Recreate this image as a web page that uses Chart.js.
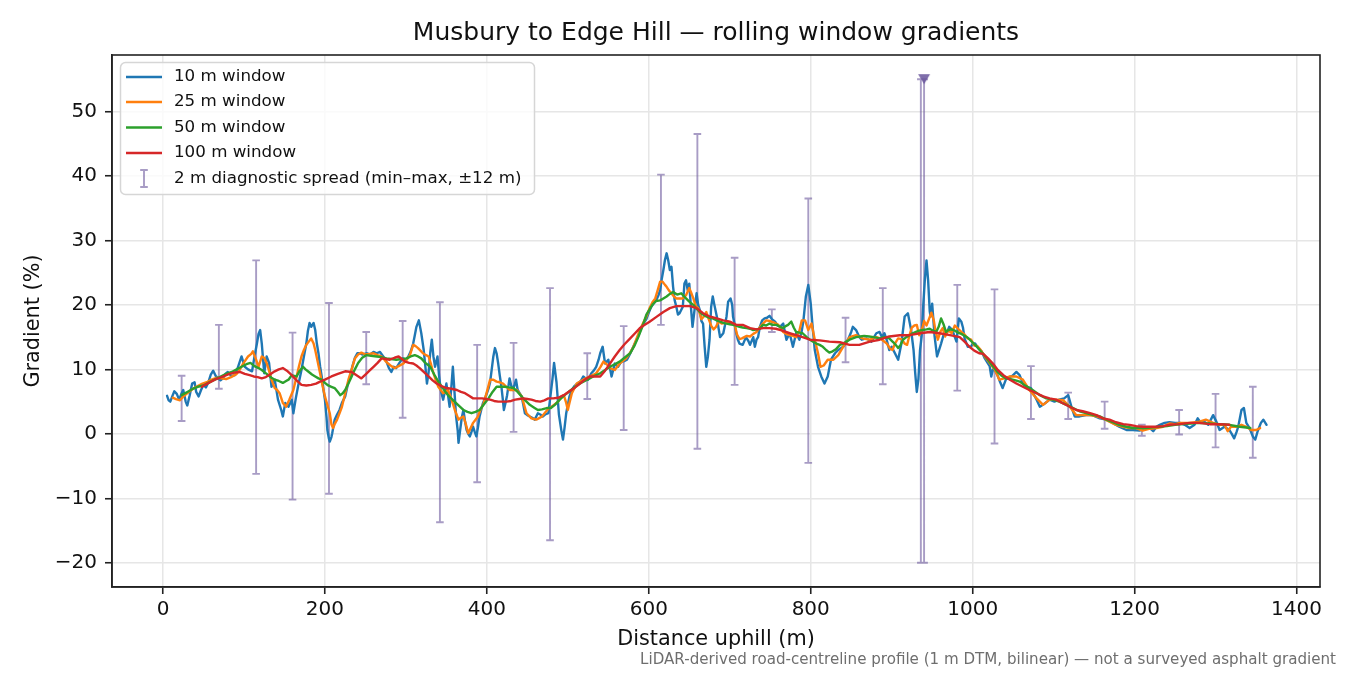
<!DOCTYPE html>
<html>
<head>
<meta charset="utf-8">
<title>Musbury to Edge Hill — rolling window gradients</title>
<script src="https://cdn.jsdelivr.net/npm/chart.js@4.4.1/dist/chart.umd.min.js"></script>
<style>
  html, body { margin: 0; padding: 0; background: #fff; }
  #chart { display: block; }
</style>
</head>
<body>
<canvas id="chart" width="1350" height="675"></canvas>
<script>
const FONT = "'DejaVu Sans', sans-serif";

const chartTitle = 'Musbury to Edge Hill \u2014 rolling window gradients';
const xLabel = 'Distance uphill (m)';
const yLabel = 'Gradient (%)';
const footnote = 'LiDAR-derived road-centreline profile (1 m DTM, bilinear) \u2014 not a surveyed asphalt gradient';
const seriesNames = ['10 m window', '25 m window', '50 m window', '100 m window'];
const spreadName = '2 m diagnostic spread (min\u2013max, \u00b112 m)';

const xTicks = [0, 200, 400, 600, 800, 1000, 1200, 1400];
const yTicks = [-20, -10, 0, 10, 20, 30, 40, 50];

// [distance m, gradient %]
const win10 = [[5,5.9],[7,5.2],[9,5.0],[12,6.0],[14,6.6],[17,6.2],[20,5.3],[23,6.3],[25,6.8],[28,5.0],[30,4.4],[33,6.0],[36,7.8],[39,8.0],[41,6.5],[44,5.8],[47,6.8],[50,7.6],[53,7.2],[56,8.0],[59,9.2],[62,9.8],[65,9.0],[68,8.6],[71,8.3],[74,8.6],[77,9.3],[80,9.6],[84,9.0],[89,9.1],[93,10.5],[97,12.0],[101,10.4],[105,10.0],[110,9.7],[113,12.0],[116,14.0],[118,15.5],[120,16.1],[122,14.0],[125,9.4],[128,12.0],[131,11.0],[134,7.3],[138,8.4],[142,5.3],[146,3.7],[148,2.7],[151,4.8],[155,4.2],[159,5.3],[161,3.2],[164,5.5],[167,7.5],[171,9.9],[174,12.0],[177,14.0],[179,16.0],[181,17.2],[183,16.6],[186,17.2],[188,16.1],[190,14.0],[192,12.5],[194,10.5],[196,8.9],[198,7.0],[200,5.3],[202,2.5],[203,0.6],[205,-0.8],[206,-1.2],[208,-0.5],[209,0.1],[212,2.2],[215,3.0],[218,3.7],[221,4.8],[225,5.8],[228,7.5],[231,8.9],[234,10.5],[237,11.8],[240,12.5],[243,12.5],[246,12.3],[249,12.4],[252,12.5],[256,12.3],[260,12.7],[264,12.5],[268,12.7],[272,12.0],[276,11.2],[279,10.2],[282,9.6],[285,10.4],[288,10.2],[292,11.0],[296,11.7],[300,11.5],[303,12.0],[306,12.8],[309,14.0],[311,15.3],[313,16.6],[316,17.6],[319,15.6],[322,13.0],[324,10.5],[326,7.8],[328,9.5],[330,12.5],[332,14.6],[334,12.0],[336,10.4],[339,12.0],[341,9.0],[343,6.8],[346,5.3],[348,6.5],[350,7.8],[352,6.0],[354,4.2],[356,7.0],[358,10.4],[360,6.5],[362,2.7],[364,0.5],[365,-1.4],[367,0.6],[369,2.5],[371,3.7],[373,2.0],[375,0.6],[377,0.0],[379,-0.4],[381,0.3],[383,1.1],[385,0.3],[387,-0.4],[389,1.0],[391,2.7],[393,3.7],[395,4.7],[398,5.6],[400,6.3],[402,7.0],[404,8.0],[406,10.0],[408,12.0],[410,13.3],[412,12.5],[414,10.9],[416,9.0],[418,7.3],[420,5.0],[421,3.7],[423,4.8],[425,6.0],[428,8.6],[430,7.5],[432,6.8],[434,7.5],[436,8.4],[438,6.8],[441,6.2],[443,5.8],[445,4.5],[447,3.2],[450,2.9],[453,2.7],[456,2.5],[459,2.2],[461,2.7],[463,3.2],[466,3.0],[469,2.7],[472,3.0],[476,3.2],[478,5.3],[481,8.5],[483,11.0],[486,8.0],[489,3.0],[492,0.5],[494,-0.9],[496,1.0],[498,3.2],[500,4.5],[502,5.8],[505,6.8],[508,7.4],[512,7.8],[516,8.2],[519,8.9],[522,8.6],[525,8.4],[529,9.4],[532,9.8],[535,10.4],[538,11.5],[540,12.5],[543,13.5],[546,10.9],[550,11.5],[554,8.9],[558,10.9],[562,10.4],[566,11.2],[570,11.3],[573,11.5],[576,12.2],[579,13.0],[582,13.8],[585,14.6],[588,15.5],[591,16.6],[594,17.2],[597,17.8],[600,18.8],[603,19.7],[606,20.2],[609,20.7],[612,21.5],[614,22.3],[616,24.0],[618,25.4],[620,27.0],[622,28.0],[624,26.9],[626,25.4],[628,25.9],[630,22.8],[632,20.7],[634,19.7],[636,18.5],[638,18.7],[640,19.2],[642,19.7],[644,23.3],[646,23.8],[648,22.3],[650,23.3],[652,19.7],[654,16.6],[656,18.7],[659,21.8],[661,20.0],[663,19.2],[665,17.5],[667,17.1],[669,13.5],[671,10.4],[673,12.0],[675,14.6],[677,19.7],[679,21.3],[681,20.0],[684,18.2],[686,16.5],[688,15.0],[690,15.3],[692,15.6],[694,16.8],[696,18.2],[698,20.5],[701,21.0],[703,20.0],[704,18.2],[706,17.0],[708,15.6],[710,14.6],[712,14.0],[716,13.8],[720,15.0],[723,14.4],[725,13.8],[729,15.0],[731,13.5],[733,14.6],[735,15.0],[737,16.5],[740,17.6],[743,17.9],[746,18.0],[749,18.3],[752,17.8],[756,17.4],[759,16.8],[762,16.6],[766,17.1],[770,14.6],[774,15.6],[778,13.5],[782,15.6],[786,14.6],[789,16.0],[791,17.6],[794,21.3],[797,23.1],[800,20.2],[802,17.1],[805,13.0],[809,10.4],[813,8.9],[817,7.8],[821,8.9],[825,11.5],[830,12.5],[834,13.0],[840,13.5],[846,14.6],[850,15.8],[852,16.6],[856,16.1],[860,15.0],[863,14.6],[869,14.8],[875,14.3],[881,15.6],[885,15.8],[888,15.0],[891,15.6],[894,14.5],[897,13.0],[900,13.5],[904,12.5],[908,11.5],[912,14.0],[916,18.2],[920,18.7],[924,16.1],[927,13.0],[929,9.5],[931,6.5],[933,8.5],[935,13.0],[937,15.1],[939,20.0],[941,24.0],[943,26.9],[945,23.8],[947,19.0],[948,18.2],[950,20.2],[953,15.1],[956,12.0],[958,12.8],[961,14.0],[964,15.3],[968,15.6],[971,16.6],[975,16.1],[978,15.0],[980,14.3],[983,17.9],[986,17.4],[988,16.5],[990,14.8],[994,13.5],[998,13.5],[1000,14.0],[1003,14.0],[1007,13.3],[1011,12.8],[1015,11.7],[1019,10.9],[1021,10.5],[1023,8.9],[1025,10.0],[1028,9.8],[1031,9.0],[1034,8.0],[1037,7.1],[1041,8.4],[1045,8.8],[1049,9.0],[1054,9.6],[1058,9.1],[1062,7.8],[1066,7.3],[1072,7.1],[1076,6.0],[1079,5.3],[1083,4.2],[1089,4.7],[1095,5.3],[1101,5.0],[1107,5.3],[1113,5.5],[1118,6.0],[1122,4.2],[1126,2.7],[1132,2.7],[1140,2.9],[1148,2.9],[1157,2.4],[1165,2.2],[1173,1.7],[1181,1.1],[1190,0.6],[1198,0.6],[1206,0.5],[1214,0.9],[1219,0.9],[1223,0.4],[1227,1.1],[1231,1.4],[1237,1.7],[1243,1.8],[1250,1.7],[1256,1.7],[1262,1.4],[1268,0.9],[1274,1.4],[1278,2.4],[1282,1.7],[1286,1.9],[1291,1.4],[1297,2.9],[1301,1.9],[1305,0.6],[1311,1.1],[1317,0.6],[1320,0.0],[1323,-0.7],[1326,0.3],[1328,1.1],[1332,3.7],[1335,4.0],[1338,1.7],[1342,0.9],[1346,-0.4],[1349,-0.9],[1352,0.4],[1356,1.7],[1359,2.2],[1363,1.4]];

const win25 = [[12,5.6],[16,5.4],[21,5.2],[25,5.8],[29,6.2],[35,6.8],[41,7.3],[47,7.7],[54,8.0],[60,8.4],[66,8.7],[72,8.6],[78,8.5],[84,8.8],[91,9.3],[95,10.0],[99,10.9],[105,12.0],[109,12.4],[111,12.8],[115,11.5],[118,10.4],[122,12.0],[125,11.8],[128,11.0],[131,9.8],[134,8.4],[138,7.1],[141,6.8],[144,6.3],[148,4.8],[152,4.2],[156,5.3],[161,6.8],[165,8.9],[168,10.5],[171,12.0],[174,13.0],[177,13.8],[180,14.3],[183,14.8],[186,14.0],[188,13.0],[191,11.2],[194,9.4],[197,7.5],[200,5.8],[203,4.5],[206,3.2],[208,1.5],[210,0.9],[212,1.5],[215,2.2],[218,3.2],[221,4.2],[225,6.3],[229,8.4],[233,10.0],[237,11.7],[241,12.3],[245,12.6],[250,12.3],[255,12.4],[260,12.5],[265,12.2],[270,12.0],[274,11.4],[278,10.9],[282,10.5],[286,10.2],[291,10.5],[297,10.9],[301,11.5],[305,12.2],[309,13.8],[312,13.6],[315,13.3],[318,12.9],[321,12.5],[325,12.2],[328,12.0],[331,10.8],[334,9.4],[337,8.3],[340,7.3],[343,6.8],[346,6.3],[349,6.5],[352,6.8],[355,5.8],[358,4.7],[361,3.5],[365,2.2],[368,2.5],[371,2.7],[374,1.5],[377,0.1],[380,0.9],[383,1.7],[386,2.2],[389,2.7],[392,3.7],[396,4.7],[400,6.5],[404,8.4],[408,8.4],[412,8.1],[416,8.0],[420,7.8],[424,7.3],[428,6.8],[432,6.8],[437,6.8],[443,5.8],[446,4.5],[449,3.2],[452,2.8],[455,2.4],[458,2.3],[461,2.2],[464,2.4],[468,2.7],[472,3.3],[476,3.9],[480,4.2],[484,4.6],[488,5.0],[492,5.8],[495,6.0],[498,4.8],[500,3.7],[502,4.8],[505,6.3],[511,7.8],[519,8.4],[527,8.9],[535,9.4],[540,10.3],[544,11.2],[548,10.8],[552,10.2],[558,9.9],[564,10.9],[572,11.7],[577,12.6],[581,13.5],[585,14.8],[589,16.1],[593,17.2],[597,18.2],[601,19.5],[605,20.5],[608,21.0],[611,22.3],[614,23.6],[617,23.6],[620,23.1],[622,22.8],[625,22.2],[628,21.8],[631,21.3],[634,21.0],[637,21.0],[642,21.0],[646,21.5],[650,22.6],[652,22.0],[655,21.0],[658,19.8],[661,19.5],[665,17.8],[668,18.2],[671,18.9],[674,17.8],[677,16.8],[680,16.2],[683,16.6],[686,17.4],[690,17.1],[694,17.2],[698,17.4],[702,17.2],[706,17.0],[709,15.4],[712,14.7],[715,14.8],[718,15.0],[721,15.2],[725,15.1],[729,15.5],[733,15.8],[737,16.5],[741,17.1],[745,17.6],[749,17.5],[754,17.3],[760,16.9],[766,15.8],[770,15.5],[774,15.3],[778,15.2],[782,15.0],[786,16.0],[789,17.6],[793,17.6],[797,16.1],[801,17.1],[805,14.6],[809,12.5],[812,10.4],[816,10.6],[821,11.5],[828,11.5],[834,12.2],[840,13.5],[848,15.0],[856,15.3],[864,14.8],[873,14.6],[881,15.0],[886,14.8],[890,14.4],[894,14.0],[898,13.2],[901,13.0],[904,14.0],[908,14.8],[912,14.7],[916,14.0],[919,13.8],[922,15.3],[925,16.5],[928,16.8],[931,16.9],[934,15.3],[937,16.0],[940,17.5],[943,16.8],[946,17.8],[949,18.8],[952,17.6],[954,16.0],[957,14.6],[960,15.8],[963,16.4],[966,15.1],[970,16.1],[974,15.6],[978,16.8],[982,16.3],[986,15.8],[990,15.4],[994,14.8],[998,14.6],[1002,13.7],[1006,13.6],[1010,13.0],[1015,12.0],[1021,11.0],[1027,10.0],[1030,9.2],[1033,8.4],[1039,8.6],[1046,8.9],[1054,8.9],[1062,8.4],[1070,6.8],[1079,5.5],[1087,4.5],[1095,5.3],[1103,5.3],[1112,5.2],[1120,4.2],[1128,2.9],[1136,2.9],[1145,2.9],[1153,2.7],[1161,2.4],[1169,1.9],[1177,1.4],[1186,1.1],[1194,0.9],[1202,0.9],[1210,0.5],[1219,0.8],[1227,0.9],[1235,1.1],[1243,1.6],[1250,1.5],[1256,1.7],[1268,1.7],[1280,1.9],[1288,2.2],[1297,1.7],[1305,1.4],[1311,1.4],[1315,0.4],[1319,1.1],[1326,1.1],[1332,1.4],[1338,1.1],[1344,0.6],[1350,0.6],[1355,0.9]];

const win50 = [[23,6.0],[30,6.5],[37,7.0],[43,7.3],[50,7.5],[56,7.9],[62,8.3],[70,8.8],[78,9.3],[85,9.6],[91,10.0],[97,10.4],[103,10.8],[108,11.0],[113,10.5],[118,10.2],[122,9.9],[126,9.5],[130,9.1],[134,8.7],[138,8.4],[143,8.2],[148,7.9],[152,8.2],[155,8.4],[159,9.1],[162,9.0],[165,8.9],[169,9.8],[173,10.4],[176,10.0],[179,9.7],[184,9.2],[188,8.9],[192,8.6],[196,8.4],[200,7.9],[204,7.5],[208,7.3],[212,7.1],[216,6.5],[219,6.0],[222,6.3],[225,6.8],[229,7.8],[233,8.9],[237,10.0],[241,11.0],[246,11.8],[251,12.2],[257,12.1],[264,12.0],[270,11.9],[276,11.7],[282,11.6],[288,11.5],[295,11.6],[301,11.7],[306,12.0],[311,12.2],[315,12.0],[319,11.7],[324,11.0],[330,10.4],[335,9.2],[340,8.1],[345,7.2],[350,6.3],[355,5.6],[360,5.0],[365,4.4],[371,3.7],[376,3.4],[381,3.2],[386,3.4],[391,3.7],[396,4.5],[402,5.5],[407,6.5],[412,7.3],[417,7.3],[422,7.3],[427,7.2],[433,7.1],[438,6.5],[443,5.8],[448,5.1],[453,4.5],[458,4.1],[463,3.7],[468,3.8],[474,4.0],[479,4.0],[484,4.5],[490,5.3],[496,6.0],[502,6.6],[508,7.2],[515,7.8],[521,8.2],[527,8.6],[533,9.0],[540,9.4],[546,9.9],[552,10.4],[558,10.8],[564,11.2],[570,11.8],[577,12.5],[582,13.6],[587,15.0],[592,16.6],[597,18.5],[601,19.3],[605,20.1],[609,20.6],[614,20.7],[618,21.0],[622,21.3],[626,21.7],[630,22.0],[635,21.6],[640,21.8],[646,21.0],[650,20.5],[655,20.0],[659,19.4],[663,18.9],[667,18.5],[671,18.2],[675,18.0],[679,17.9],[684,17.6],[688,17.4],[692,17.2],[696,17.1],[700,17.0],[704,16.9],[708,16.8],[712,16.6],[716,16.5],[721,16.4],[725,16.3],[729,16.1],[733,16.2],[737,16.3],[741,16.9],[745,16.8],[749,17.1],[753,16.9],[758,16.9],[762,16.6],[766,16.4],[769,16.7],[772,16.9],[776,17.4],[779,16.5],[782,15.8],[786,15.7],[790,15.6],[795,15.0],[799,14.6],[803,14.3],[807,14.0],[811,13.8],[815,13.5],[819,13.0],[823,12.6],[827,12.8],[831,13.1],[836,13.8],[840,14.0],[844,14.3],[848,14.6],[852,14.8],[856,15.0],[861,15.1],[866,15.2],[872,15.1],[878,15.0],[885,14.8],[891,15.0],[897,14.8],[902,14.2],[905,13.8],[908,13.3],[911,13.8],[914,14.6],[918,15.0],[922,15.3],[926,15.6],[930,15.8],[934,16.0],[938,16.1],[943,16.2],[947,16.3],[951,16.0],[955,15.8],[958,16.6],[961,17.9],[964,17.0],[967,15.8],[970,16.1],[974,16.2],[978,16.0],[982,15.7],[986,15.5],[990,15.2],[994,14.9],[998,14.4],[1002,13.9],[1006,13.4],[1010,12.8],[1015,12.1],[1020,11.3],[1025,10.5],[1030,9.7],[1035,9.1],[1041,8.6],[1047,8.5],[1053,8.3],[1058,8.1],[1066,7.4],[1074,6.8],[1083,6.0],[1091,5.5],[1099,5.3],[1107,5.0],[1116,4.5],[1124,4.0],[1132,3.5],[1140,3.2],[1149,2.9],[1157,2.7],[1165,2.2],[1173,1.8],[1181,1.4],[1190,1.1],[1198,0.9],[1206,0.9],[1214,0.9],[1222,1.0],[1231,1.1],[1240,1.2],[1250,1.4],[1260,1.5],[1270,1.6],[1280,1.7],[1292,1.6],[1305,1.5],[1317,1.4],[1330,1.1],[1343,0.9]];

const win100 = [[48,7.3],[52,7.6],[58,8.0],[64,8.4],[70,8.7],[76,9.0],[82,9.3],[88,9.5],[95,9.6],[101,9.3],[107,9.1],[112,8.9],[117,8.8],[122,8.6],[127,8.8],[132,9.2],[138,9.7],[143,10.0],[148,10.2],[153,9.8],[159,9.1],[165,8.3],[171,7.6],[177,7.5],[183,7.6],[189,7.8],[194,8.1],[200,8.4],[208,8.9],[216,9.3],[225,9.7],[233,9.6],[240,9.0],[245,8.6],[250,9.2],[255,9.8],[260,10.4],[265,11.0],[270,11.7],[275,11.6],[280,11.5],[286,11.8],[291,12.0],[295,11.6],[299,11.2],[304,11.0],[309,10.9],[313,10.6],[317,10.2],[322,9.6],[328,8.9],[333,8.3],[338,7.8],[344,7.4],[350,7.1],[356,7.0],[363,6.8],[368,6.5],[373,6.3],[378,5.9],[383,5.5],[388,5.5],[394,5.5],[399,5.4],[404,5.3],[409,5.1],[414,5.0],[419,5.0],[424,5.0],[430,5.1],[435,5.3],[440,5.4],[445,5.5],[450,5.4],[455,5.3],[460,5.1],[466,5.0],[471,5.2],[476,5.5],[482,5.5],[488,5.6],[495,6.0],[502,6.6],[509,7.2],[515,7.8],[521,8.4],[527,8.9],[533,8.9],[540,8.9],[546,9.8],[552,10.9],[558,12.0],[564,13.0],[570,13.9],[577,14.8],[583,15.6],[589,16.4],[595,16.9],[601,17.4],[609,18.1],[618,18.9],[626,19.5],[634,19.8],[642,19.8],[651,19.8],[659,19.5],[667,18.7],[675,18.2],[684,17.9],[692,17.6],[700,17.4],[708,16.9],[716,16.9],[725,16.4],[733,16.2],[741,16.4],[749,16.4],[757,16.3],[765,16.0],[774,15.6],[782,15.3],[790,15.0],[799,14.6],[811,14.5],[823,14.3],[836,14.2],[848,13.8],[860,13.8],[873,14.3],[885,14.6],[897,15.1],[910,15.3],[922,15.3],[935,15.6],[947,15.8],[959,15.6],[972,15.3],[984,15.0],[990,14.3],[996,13.5],[1002,12.9],[1008,12.5],[1013,12.4],[1019,11.7],[1025,10.9],[1031,9.9],[1038,9.1],[1046,8.4],[1054,7.8],[1062,7.3],[1070,6.8],[1079,6.3],[1087,5.8],[1095,5.5],[1103,5.3],[1112,4.7],[1120,4.2],[1128,3.7],[1136,3.5],[1145,3.2],[1153,2.9],[1161,2.4],[1169,2.2],[1177,1.8],[1186,1.5],[1194,1.4],[1202,1.2],[1210,1.1],[1219,1.1],[1227,1.1],[1235,1.2],[1243,1.4],[1255,1.5],[1268,1.7],[1280,1.7],[1293,1.5],[1305,1.5],[1317,1.4]];

// 2 m diagnostic spread, min and max (values beyond the axis are shown at the limit)
const spreadDist = [23, 69, 115, 160, 205, 251, 296, 342, 388, 433, 478, 524, 569, 615, 660, 706, 752, 797, 843, 889, 936, 940, 981, 1027, 1072, 1118, 1163, 1209, 1255, 1300, 1346];
const spreadLo = [2.0, 7.0, -6.2, -10.2, -9.3, 7.7, 2.5, -13.7, -7.5, 0.3, -16.5, 5.4, 0.6, 16.9, -2.3, 7.6, 15.8, -4.5, 11.1, 7.7, -20, -20, 6.7, -1.5, 2.3, 2.3, 0.8, -0.3, -0.1, -2.1, -3.7];
const spreadHi = [9.0, 16.9, 26.9, 15.7, 20.3, 15.8, 17.5, 20.4, 13.8, 14.1, 22.6, 12.5, 16.7, 40.2, 46.5, 27.3, 19.3, 36.5, 18.0, 22.6, 55, 55, 23.1, 22.4, 10.5, 6.4, 5.0, 1.4, 3.7, 6.2, 7.3];
const clippedMarks = [[940, 55]];

const lineColors = ['#1f77b4', '#ff7f0e', '#2ca02c', '#d62728'];
const spreadColor = 'rgba(105, 85, 155, 0.58)';
const markColor = 'rgba(105, 85, 155, 0.85)';

function toPoints(pairs) {
  return pairs.map(p => ({x: p[0], y: p[1]}));
}

function tickText(v) {
  return v < 0 ? '\u2212' + Math.abs(v) : String(v);
}

// down-pointing triangle, centred in its own box like matplotlib's 'v'
const downTri = document.createElement('canvas');
downTri.width = 14; downTri.height = 12;
(function() {
  const c = downTri.getContext('2d');
  c.fillStyle = markColor;
  c.beginPath();
  c.moveTo(1, 1); c.lineTo(13, 1); c.lineTo(7, 11); c.closePath();
  c.fill();
})();

const spreadPlugin = {
  id: 'spread',
  beforeDatasetsDraw(chart) {
    const {ctx, chartArea, scales} = chart;
    ctx.save();
    ctx.beginPath();
    ctx.rect(chartArea.left, chartArea.top, chartArea.width, chartArea.height);
    ctx.clip();
    ctx.strokeStyle = spreadColor;
    ctx.lineWidth = 1.9;
    ctx.beginPath();
    spreadDist.forEach((d, i) => {
      const px = scales.x.getPixelForValue(d);
      const lo = scales.y.getPixelForValue(spreadLo[i]);
      const hi = scales.y.getPixelForValue(spreadHi[i]);
      ctx.moveTo(px, lo); ctx.lineTo(px, hi);
      ctx.moveTo(px - 3.8, lo); ctx.lineTo(px + 3.8, lo);
      ctx.moveTo(px - 3.8, hi); ctx.lineTo(px + 3.8, hi);
    });
    ctx.stroke();
    ctx.restore();
  }
};

const decorPlugin = {
  id: 'decor',
  afterDraw(chart) {
    const {ctx, chartArea} = chart;
    ctx.save();
    // top and right spines
    ctx.strokeStyle = '#222';
    ctx.lineWidth = 1.6;
    ctx.strokeRect(chartArea.left, chartArea.top, chartArea.width, chartArea.height);

    // title
    ctx.fillStyle = '#111';
    ctx.font = '25px ' + FONT;
    ctx.textAlign = 'center';
    ctx.textBaseline = 'middle';
    ctx.fillText(chartTitle, (chartArea.left + chartArea.right) / 2, 33);

    // footnote
    ctx.fillStyle = '#6e6e6e';
    ctx.font = '15.1px ' + FONT;
    ctx.textAlign = 'right';
    ctx.fillText(footnote, 1336, 660);

    // legend
    const bx = 120.5, by = 62.5, bw = 414, bh = 132;
    ctx.beginPath();
    if (ctx.roundRect) ctx.roundRect(bx, by, bw, bh, 5); else ctx.rect(bx, by, bw, bh);
    ctx.fillStyle = 'rgba(255,255,255,0.8)';
    ctx.fill();
    ctx.strokeStyle = '#d6d6d6';
    ctx.lineWidth = 1.5;
    ctx.stroke();

    const rows = [77, 102, 127.5, 153, 178.5];
    ctx.font = '16.7px ' + FONT;
    ctx.textAlign = 'left';
    seriesNames.forEach((name, i) => {
      ctx.strokeStyle = lineColors[i];
      ctx.lineWidth = 2.4;
      ctx.beginPath();
      ctx.moveTo(126, rows[i]); ctx.lineTo(162, rows[i]);
      ctx.stroke();
      ctx.fillStyle = '#111';
      ctx.fillText(name, 174, rows[i]);
    });
    const ey = rows[4];
    ctx.strokeStyle = spreadColor;
    ctx.lineWidth = 1.9;
    ctx.beginPath();
    ctx.moveTo(144, ey - 8.5); ctx.lineTo(144, ey + 8.5);
    ctx.moveTo(140.2, ey - 8.5); ctx.lineTo(147.8, ey - 8.5);
    ctx.moveTo(140.2, ey + 8.5); ctx.lineTo(147.8, ey + 8.5);
    ctx.stroke();
    ctx.fillStyle = '#111';
    ctx.fillText(spreadName, 174, ey);
    ctx.restore();
  }
};

const allSeries = [win10, win25, win50, win100];
const datasets = allSeries.map((s, i) => ({
  label: seriesNames[i],
  data: toPoints(s),
  borderColor: lineColors[i],
  backgroundColor: lineColors[i],
  borderWidth: 2.4,
  pointRadius: 0,
  tension: 0,
  borderJoinStyle: 'round',
  borderCapStyle: 'round',
  order: 4 - i
}));
datasets.push({
  label: 'clipped',
  data: toPoints(clippedMarks),
  showLine: false,
  pointStyle: downTri,
  pointRadius: 7,
  order: 0
});

new Chart(document.getElementById('chart'), {
  type: 'line',
  data: {datasets: datasets},
  plugins: [spreadPlugin, decorPlugin],
  options: {
    responsive: false,
    animation: false,
    devicePixelRatio: 1,
    layout: {padding: {top: 55, right: 30, bottom: 20, left: 0}},
    plugins: {
      legend: {display: false},
      tooltip: {enabled: false},
      title: {display: false}
    },
    scales: {
      x: {
        type: 'linear',
        min: -63,
        max: 1429,
        afterBuildTicks: s => { s.ticks = xTicks.map(v => ({value: v})); },
        afterFit: s => { s.height = 68; },
        grid: {color: '#e6e6e6', lineWidth: 1.5, tickLength: 7, tickColor: '#222', tickWidth: 1.6},
        border: {color: '#222', width: 1.6},
        ticks: {
          font: {family: FONT, size: 20}, color: '#111', padding: 4,
          maxRotation: 0, autoSkip: false, callback: v => tickText(v)
        },
        title: {
          display: true, text: xLabel, color: '#111',
          font: {family: FONT, size: 20.8}, padding: {top: 0, bottom: 2.5}
        }
      },
      y: {
        type: 'linear',
        min: -23.75,
        max: 58.75,
        afterBuildTicks: s => { s.ticks = yTicks.map(v => ({value: v})); },
        afterFit: s => { s.width = 112; },
        grid: {color: '#e6e6e6', lineWidth: 1.5, tickLength: 7, tickColor: '#222', tickWidth: 1.6},
        border: {color: '#222', width: 1.6},
        ticks: {
          font: {family: FONT, size: 20}, color: '#111', padding: 8,
          autoSkip: false, callback: v => tickText(v)
        },
        title: {
          display: true, text: yLabel, color: '#111',
          font: {family: FONT, size: 20.8}, padding: {top: 21.5, bottom: 0}
        }
      }
    }
  }
});
</script>
</body>
</html>
